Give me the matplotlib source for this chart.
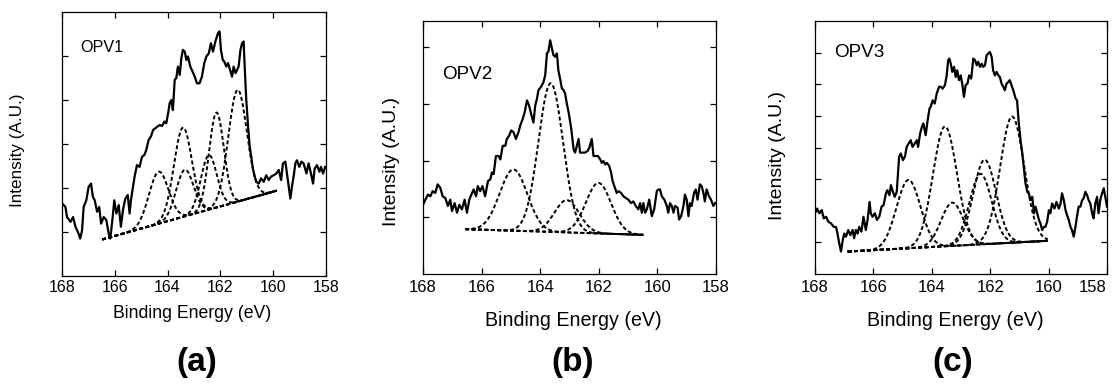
import numpy as np
import matplotlib
matplotlib.use("Agg")
import matplotlib.pyplot as plt

plt.rcParams['font.family'] = ['Liberation Sans', 'DejaVu Sans']

# ---- panel (a) OPV1: measured S 2p spectrum
a_be = [168.00,167.87,167.81,167.68,167.58,167.49,167.37,167.31,167.24,167.18,
        167.08,166.99,166.90,166.83,166.76,166.67,166.59,166.52,166.42,166.32,
        166.23,166.17,166.08,166.02,165.94,165.85,165.77,165.69,165.60,165.51,
        165.44,165.39,165.31,165.25,165.16,165.06,164.97,164.88,164.81,164.72,
        164.63,164.55,164.46,164.40,164.30,164.21,164.12,164.05,163.98,163.92,
        163.86,163.80,163.73,163.67,163.61,163.54,163.48,163.42,163.35,163.29,
        163.23,163.14,163.08,162.97,162.89,162.79,162.70,162.61,162.53,162.44,
        162.36,162.28,162.19,162.13,162.09,162.03,161.98,161.91,161.85,161.78,
        161.71,161.62,161.56,161.50,161.43,161.37,161.31,161.24,161.18,161.12,
        161.08,161.02,160.95,160.89,160.83,160.77,160.70,160.64,160.55,160.46,
        160.36,160.26,160.17,160.08,159.98,159.88,159.79,159.70,159.63,159.54,
        159.48,159.41,159.35,159.29,159.22,159.16,159.10,159.01,158.93,158.85,
        158.74,158.66,158.57,158.49,158.43,158.34,158.25,158.19,158.11,158.03]
a_int = [1.65,1.57,1.34,1.23,1.34,1.12,0.96,0.85,1.04,1.57,
         1.72,2.03,2.10,1.80,1.72,1.46,1.57,1.19,1.34,1.27,
         0.96,0.85,1.34,1.72,1.42,1.61,1.12,1.50,1.76,1.84,
         1.42,1.72,2.03,2.26,2.52,2.48,2.71,2.75,2.86,3.09,
         3.17,3.32,3.36,3.39,3.43,3.41,3.51,3.47,3.70,3.93,
         4.00,3.77,4.46,4.50,4.76,4.57,4.95,5.14,5.10,4.91,
         4.99,4.76,4.68,4.53,4.38,4.38,4.53,4.84,4.99,5.06,
         5.29,5.10,5.33,5.44,5.52,5.56,5.14,4.91,4.87,4.76,
         4.84,4.65,4.53,4.76,4.61,4.68,4.76,5.14,5.29,5.33,
         4.76,4.00,3.39,2.94,2.71,2.44,2.26,2.14,2.10,2.22,
         2.14,2.29,2.18,2.26,2.29,2.33,2.41,2.18,2.56,2.60,
         2.33,2.03,1.76,2.03,2.29,2.56,2.63,2.48,2.60,2.56,
         2.33,2.56,2.33,2.10,2.44,2.52,2.37,2.48,2.33,2.48]
# fitted components (gaussian peaks on a linear background)
a_bg_x = [166.48, 159.86]
a_bg_y = [0.83, 1.94]
a_cen = [164.34, 163.42, 163.35, 162.44, 162.15, 161.35]
a_amp = [1.18, 2.03, 1.06, 1.24, 2.16, 2.54]
a_sig = [0.37, 0.34, 0.33, 0.30, 0.28, 0.35]

# ---- panel (b) OPV2
b_be = [168.00,167.92,167.83,167.75,167.67,167.58,167.50,167.41,167.33,167.24,
        167.15,167.07,167.01,166.92,166.84,166.76,166.67,166.58,166.50,166.42,
        166.35,166.27,166.19,166.13,166.05,165.97,165.88,165.78,165.70,165.65,
        165.59,165.51,165.42,165.36,165.28,165.19,165.14,165.06,164.99,164.91,
        164.83,164.74,164.68,164.60,164.53,164.45,164.38,164.31,164.23,164.17,
        164.11,164.06,163.97,163.89,163.83,163.77,163.72,163.66,163.60,163.55,
        163.49,163.43,163.38,163.32,163.26,163.20,163.15,163.09,163.03,162.94,
        162.86,162.81,162.75,162.69,162.64,162.58,162.47,162.38,162.32,162.24,
        162.18,162.13,162.03,161.95,161.90,161.84,161.78,161.73,161.65,161.58,
        161.53,161.47,161.39,161.33,161.24,161.16,161.08,160.99,160.90,160.82,
        160.74,160.65,160.59,160.53,160.48,160.42,160.36,160.28,160.19,160.11,
        160.02,159.97,159.91,159.85,159.76,159.68,159.63,159.57,159.51,159.45,
        159.40,159.31,159.26,159.19,159.11,159.06,159.00,158.94,158.89,158.83,
        158.75,158.69,158.63,158.55,158.49,158.43,158.38,158.32,158.24,158.17,
        158.09,158.03]
b_int = [1.22,1.31,1.40,1.37,1.46,1.43,1.58,1.52,1.37,1.34,
         1.20,1.31,1.11,1.25,1.08,1.22,1.14,1.31,1.08,1.31,
         1.40,1.49,1.37,1.55,1.46,1.55,1.37,1.64,1.67,1.79,
         1.76,2.08,2.08,2.02,2.26,2.26,2.38,2.44,2.53,2.50,
         2.38,2.50,2.62,2.73,2.85,3.06,2.97,2.82,2.67,2.97,
         3.09,3.24,3.30,3.38,3.50,3.89,3.92,4.12,3.98,3.86,
         3.83,3.89,3.59,3.44,3.27,3.24,3.18,3.00,2.85,2.56,
         2.20,2.14,2.26,2.38,2.14,2.14,2.14,2.17,2.23,2.38,
         2.08,2.08,2.08,2.02,1.96,1.99,1.93,1.96,1.91,1.79,
         1.64,1.55,1.43,1.46,1.43,1.37,1.34,1.31,1.25,1.28,
         1.20,1.14,1.25,1.08,1.25,1.08,1.14,1.31,1.02,1.14,
         1.46,1.49,1.49,1.37,1.31,1.20,1.08,1.25,1.20,1.08,
         1.20,1.17,0.96,1.02,1.20,1.40,1.31,1.02,1.25,1.20,
         1.43,1.49,1.31,1.58,1.55,1.43,1.28,1.49,1.37,1.31,
         1.20,1.25]
b_bg_x = [166.56, 160.48]
b_bg_y = [0.79, 0.69]
b_cen = [164.91, 163.64, 163.09, 162.01]
b_amp = [1.08, 2.62, 0.57, 0.89]
b_sig = [0.47, 0.42, 0.42, 0.43]

# ---- panel (c) OPV3
c_be = [168.00,167.93,167.85,167.77,167.70,167.62,167.54,167.45,167.36,167.28,
        167.23,167.17,167.11,167.05,167.00,166.94,166.86,166.79,166.71,166.66,
        166.60,166.54,166.49,166.41,166.34,166.26,166.20,166.13,166.09,166.03,
        165.95,165.88,165.80,165.72,165.65,165.57,165.52,165.45,165.40,165.35,
        165.27,165.20,165.12,165.06,164.99,164.92,164.86,164.79,164.72,164.66,
        164.58,164.51,164.47,164.40,164.34,164.29,164.21,164.15,164.08,164.04,
        163.97,163.90,163.83,163.75,163.69,163.63,163.55,163.49,163.44,163.40,
        163.35,163.30,163.24,163.18,163.13,163.07,163.01,162.95,162.90,162.84,
        162.78,162.72,162.65,162.58,162.52,162.46,162.41,162.35,162.29,162.24,
        162.18,162.12,162.07,162.01,161.95,161.90,161.84,161.78,161.72,161.67,
        161.61,161.55,161.50,161.44,161.38,161.33,161.27,161.21,161.13,161.08,
        161.02,160.96,160.90,160.85,160.79,160.73,160.68,160.62,160.56,160.50,
        160.45,160.39,160.33,160.28,160.22,160.16,160.11,160.05,159.99,159.94,
        159.88,159.80,159.73,159.65,159.59,159.54,159.48,159.42,159.37,159.31,
        159.25,159.20,159.14,159.08,159.03,158.97,158.91,158.85,158.80,158.74,
        158.68,158.63,158.57,158.51,158.46,158.40,158.34,158.29,158.23,158.17,
        158.11,158.06,158.00]
c_int = [1.92,2.07,1.92,2.02,1.76,1.81,1.65,1.60,1.49,1.49,
         1.28,0.97,0.71,1.07,1.28,1.18,1.39,1.23,1.39,1.13,
         1.39,1.28,1.49,1.34,1.81,1.39,1.71,2.28,1.92,1.81,
         1.92,1.71,1.81,2.13,2.18,2.55,2.65,2.49,2.81,2.65,
         2.44,2.60,3.71,3.81,3.60,3.71,4.02,4.13,4.23,4.02,
         4.13,4.23,4.02,4.44,4.65,4.76,4.39,4.81,5.23,5.28,
         5.49,5.39,5.71,5.92,5.92,5.86,5.97,6.28,6.76,6.81,
         6.65,6.39,6.55,6.23,6.44,6.13,6.28,5.97,5.60,5.97,
         6.02,6.28,6.18,6.81,6.76,6.60,6.71,6.55,6.65,6.55,
         6.60,6.92,6.97,7.02,6.86,6.44,6.28,6.39,6.28,6.23,
         6.02,5.92,5.81,6.02,6.07,6.13,5.97,5.81,5.55,5.49,
         4.76,4.23,3.81,3.39,2.86,2.60,2.55,2.34,2.44,1.92,
         2.13,1.92,1.71,1.60,1.39,1.49,1.49,1.65,2.02,1.92,
         2.23,2.07,2.28,2.07,2.23,2.55,2.34,2.02,1.86,1.71,
         1.49,1.39,1.18,1.49,1.81,2.13,2.13,2.34,2.39,2.60,
         2.49,2.34,2.23,1.92,1.76,2.23,2.44,1.92,2.34,2.55,
         2.71,2.44,2.13]
c_bg_x = [166.88, 160.03]
c_bg_y = [0.71, 1.05]
c_cen = [164.80, 163.55, 163.30, 162.33, 162.19, 161.25]
c_amp = [2.16, 3.79, 1.37, 2.23, 2.67, 3.99]
c_sig = [0.41, 0.41, 0.38, 0.38, 0.39, 0.41]

xticks = [168, 166, 164, 162, 160, 158]


def panel(ax, be, inten, bg_x, bg_y, cen, amp, sig, ylim, yticks, name, fs):
    ax.plot(be, inten, color='black', lw=1.6)
    e = np.linspace(bg_x[0], bg_x[1], 300)
    bg = np.interp(e, bg_x[::-1], bg_y[::-1])
    ax.plot(e, bg, color='black', lw=1.4, ls=(0, (2.0, 1.3)))
    for c0, a0, s0 in zip(cen, amp, sig):
        ax.plot(e, bg + a0 * np.exp(-0.5 * ((e - c0) / s0) ** 2),
                color='black', lw=1.4, ls=(0, (2.0, 1.3)))
    ax.set_xlim(168, 158)
    ax.set_ylim(*ylim)
    ax.set_xticks(xticks)
    ax.set_yticks(yticks)
    ax.set_yticklabels([])
    ax.tick_params(direction='in', top=True, right=True, length=4,
                   width=0.9, labelsize=fs['tick'], pad=fs['pad'])
    for s in ax.spines.values():
        s.set_linewidth(0.9)
    ax.text(fs['tx'], fs['ty'], name, transform=ax.transAxes,
            fontsize=fs['name'], va='center', ha='left')


fig = plt.figure(figsize=(11.17, 3.85), dpi=100)
W, H = 1117, 385

def axes_px(l, r, t, b):
    return fig.add_axes([l / W, 1 - b / H, (r - l) / W, (b - t) / H])

ax_a = axes_px(62, 326, 12, 276)
ax_b = axes_px(423, 716, 21, 274)
ax_c = axes_px(815, 1107, 21, 274)

panel(ax_a, a_be, a_int, a_bg_x, a_bg_y, a_cen, a_amp, a_sig, (0, 6),
      [1, 2, 3, 4, 5], 'OPV1',
      dict(tick=11.5, pad=3, name=11.6, tx=0.068, ty=0.867))
panel(ax_b, b_be, b_int, b_bg_x, b_bg_y, b_cen, b_amp, b_sig, (0, 4.46),
      [1, 2, 3, 4], 'OPV2',
      dict(tick=12, pad=4.5, name=13.6, tx=0.065, ty=0.787))
panel(ax_c, c_be, c_int, c_bg_x, c_bg_y, c_cen, c_amp, c_sig, (0, 8),
      [1, 2, 3, 4, 5, 6, 7], 'OPV3',
      dict(tick=12, pad=4.5, name=13.6, tx=0.065, ty=0.874))
# last label of (c) sits at the figure edge
ax_c.get_xticklabels()[-1].set_horizontalalignment('right')

# axis labels and panel letters
fig.text(192 / W, 1 - 313 / H, 'Binding Energy (eV)', fontsize=12.7, ha='center', va='center')
fig.text(573 / W, 1 - 320 / H, 'Binding Energy (eV)', fontsize=14.1, ha='center', va='center')
fig.text(955 / W, 1 - 320 / H, 'Binding Energy (eV)', fontsize=14.1, ha='center', va='center')
fig.text(18 / W, 1 - 150 / H, 'Intensity (A.U.)', fontsize=12.3, rotation=90, ha='center', va='center')
fig.text(391 / W, 1 - 162 / H, 'Intensity (A.U.)', fontsize=14, rotation=90, ha='center', va='center')
fig.text(777 / W, 1 - 156 / H, 'Intensity (A.U.)', fontsize=14, rotation=90, ha='center', va='center')
for xc, lab in [(197, '(a)'), (573, '(b)'), (953, '(c)')]:
    fig.text(xc / W, 1 - 362 / H, lab, fontsize=24, fontweight='bold', ha='center', va='center')

fig.savefig('out.png', dpi=100)
